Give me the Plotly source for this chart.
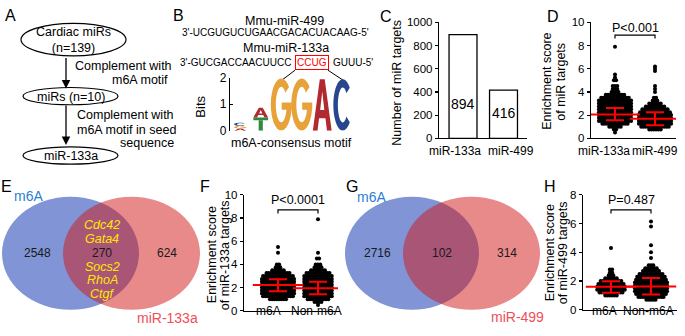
import math
import plotly.graph_objects as go

W, H = 685, 336
FONT = "Liberation Sans, Arial, sans-serif"

# ---------------- data ----------------
flow_steps = ["Cardiac miRs<br>(n=139)", "miRs (n=10)", "miR-133a"]
flow_note1 = ["Complement with", "m6A motif"]
flow_note2 = ["Complement with", "m6A motif in seed", "sequence"]

mir499_name = "Mmu-miR-499"
mir499_seq = "3'-UCGUGUCUGAACGACACUACAAG-5'"
mir133_name = "Mmu-miR-133a"
mir133_left = "3'-GUCGACCAACUUCC"
mir133_site = "CCUG"
mir133_right = "GUUU-5'"
logo_title = "m6A-consensus motif"

logo_letters = [["A", "G", "C"], ["T", "A"], ["G"], ["G"], ["A"], ["C"]]
logo_bits = [[0.08, 0.10, 0.12], [0.50, 0.37], [1.98], [1.98], [1.95], [1.95]]
logo_ticks = [0, 1, 2]

target_mirs = ["miR-133a", "miR-499"]
target_counts = [894, 416]
bar_ticks = [0, 200, 400, 600, 800, 1000]

# D: enrichment score of miR targets (value levels and number of dots per level)
d_groups = ["miR-133a", "miR-499"]
d_lv_133a = [0.5, 0.75, 1.0, 1.25, 1.5, 1.75, 2.0, 2.25, 2.5, 2.75, 3.0, 3.25, 3.5, 3.75, 4.0, 4.25, 4.5, 5.0, 5.25, 5.5, 7.9]
d_ct_133a = [1, 2, 6, 12, 15, 15, 15, 15, 15, 15, 15, 15, 13, 9, 4, 3, 3, 2, 1, 1, 1]
d_lv_499 = [0.75, 1.0, 1.25, 1.5, 1.75, 2.0, 2.25, 2.5, 2.75, 3.0, 3.25, 3.5, 4.0, 4.25, 4.5, 5.8, 6.0, 6.2]
d_ct_499 = [6, 13, 15, 15, 15, 15, 14, 12, 9, 6, 3, 2, 1, 1, 1, 1, 1, 1]
d_mean = [2.05, 1.68]
d_sd_hi = [2.62, 2.25]
d_sd_lo = [1.55, 1.12]
d_p = "P<0.001"

# F: miR-133a targets, m6A vs non-m6A
f_groups = ["m6A", "Non-m6A"]
f_lv_m6a = [1.0, 1.25, 1.5, 1.75, 2.0, 2.25, 2.5, 2.75, 3.0, 3.25, 3.5, 3.75, 4.0, 5.0, 5.5]
f_ct_m6a = [8, 14, 15, 15, 15, 15, 15, 15, 14, 11, 6, 3, 2, 1, 1]
f_lv_non = [0.5, 0.75, 1.0, 1.25, 1.5, 1.75, 2.0, 2.25, 2.5, 2.75, 3.0, 3.25, 3.5, 3.75, 4.0, 4.5, 5.0, 7.9]
f_ct_non = [1, 4, 10, 13, 13, 13, 13, 13, 13, 13, 13, 11, 7, 4, 3, 2, 1, 1]
f_mean = [2.22, 1.95]
f_sd_hi = [2.72, 2.50]
f_sd_lo = [1.68, 1.43]
f_p = "P<0.0001"

# H: miR-499 targets, m6A vs non-m6A
h_groups = ["m6A", "Non-m6A"]
h_lv_m6a = [1.0, 1.2, 1.4, 1.6, 1.8, 2.0, 2.2, 2.4, 2.6, 2.8, 4.3]
h_ct_m6a = [6, 11, 13, 13, 12, 10, 6, 3, 2, 2, 1]
h_lv_non = [0.7, 0.9, 1.1, 1.3, 1.5, 1.7, 1.9, 2.1, 2.3, 2.5, 2.7, 2.9, 3.1, 3.6, 4.0, 4.5, 5.8, 6.15]
h_ct_non = [5, 12, 14, 15, 15, 15, 15, 14, 13, 11, 8, 6, 3, 1, 1, 1, 1, 1]
h_mean = [1.60, 1.62]
h_sd_hi = [1.98, 2.22]
h_sd_lo = [1.18, 1.07]
h_p = "P=0.487"

# Venn diagrams
venn_e_sets = ["m6A", "miR-133a"]
venn_e_counts = [2548, 270, 624]
venn_e_genes = ["Cdc42", "Gata4", "Socs2", "RhoA", "Ctgf"]
venn_g_sets = ["m6A", "miR-499"]
venn_g_counts = [2716, 102, 314]

# ---------------- helpers ----------------
def X(px):
    return px / W

def Y(py):
    return 1 - py / H

annotations = []
shapes = []

def text(px, py, s, size=12.5, color="black", xanchor="center", yanchor="middle", angle=0, italic=False, **kw):
    annotations.append(dict(x=X(px), y=Y(py), xref="paper", yref="paper", text=s, showarrow=False,
                            xanchor=xanchor, yanchor=yanchor, textangle=angle,
                            font=dict(family=FONT, size=size, color=color,
                                      style="italic" if italic else "normal"), **kw))

BLACK = "black"
axis_common = dict(showline=True, linecolor=BLACK, linewidth=1.2, showgrid=False, zeroline=False,
                   ticks="outside", ticklen=3, tickwidth=1.2, tickcolor=BLACK,
                   tickfont=dict(family=FONT, size=11.5, color=BLACK))

fig = go.Figure()

# ---------------- Panel A: flowchart ----------------
text(10, 9, "A", size=16)
ell = [(21, 126, 17, 51), (23, 118, 84, 102), (23, 118, 146, 164)]
for (x0, x1, y0, y1), lab in zip(ell, flow_steps):
    shapes.append(dict(type="circle", xref="paper", yref="paper", x0=X(x0), x1=X(x1), y0=Y(y1), y1=Y(y0),
                       line=dict(color=BLACK, width=1.2), fillcolor="white"))
    text((x0 + x1) / 2, (y0 + y1) / 2 + 0.5, lab, size=12.5)
for (tipy, length) in [(85, 32), (144, 41)]:
    annotations.append(dict(x=X(66), y=Y(tipy), xref="paper", yref="paper", ax=0, ay=-length,
                            showarrow=True, arrowhead=2, arrowsize=1.3, arrowwidth=1.3, arrowcolor=BLACK, text=""))
text(73, 62, flow_note1[0], xanchor="left")
text(170, 76, flow_note1[1], xanchor="right")
text(75, 113, flow_note2[0], xanchor="left")
text(75, 128, flow_note2[1], xanchor="left")
text(176, 142, flow_note2[2], xanchor="right")

# ---------------- Panel B: sequences + logo ----------------
text(178, 9, "B", size=16)
text(284, 15, mir499_name, size=12.5)
text(180, 27, mir499_seq, size=10, xanchor="left")
text(286, 43, mir133_name, size=12.5)
text(293, 58, mir133_left, size=10, xanchor="right")
text(311.5, 58, mir133_site, size=10, color="red", bordercolor="red", borderwidth=1, borderpad=1)
text(331, 58, mir133_right, size=10, xanchor="left")
shapes.append(dict(type="line", xref="paper", yref="paper", x0=X(295), y0=Y(66), x1=X(281), y1=Y(77),
                   line=dict(color=BLACK, width=1)))
shapes.append(dict(type="line", xref="paper", yref="paper", x0=X(328), y0=Y(66), x1=X(344), y1=Y(77),
                   line=dict(color=BLACK, width=1)))
text(201, 104, "Bits", size=13, angle=-90)
text(291, 142, logo_title, size=12.5)

letter_colors = {"G": "#e8a23a", "A": "#b02a2f", "C": "#27468f", "T": "#2e8a3c"}

def arc(cx, cy, rx, ry, a0, a1, n=28):
    pts = []
    for k in range(n + 1):
        a = math.radians(a0 + (a1 - a0) * k / n)
        pts.append((cx + rx * math.cos(a), cy + ry * math.sin(a)))
    return pts

def glyph(letter):
    # polygons in a unit box; rings after the first in a group are holes
    if letter in ("C", "G"):
        a0, a1 = (42, 318) if letter == "C" else (42, 358)
        outer = arc(0.5, 0.5, 0.5, 0.5, a0, a1)
        inner = arc(0.5, 0.5, 0.26, 0.34, a1, a0)
        polys = [[outer + inner]]
        if letter == "G":
            polys.append([[(0.52, 0.40), (1.0, 0.40), (1.0, 0.54), (0.52, 0.54)]])
        return polys
    if letter == "A":
        outer = [(0, 0), (0.25, 0), (0.33, 0.24), (0.67, 0.24), (0.75, 0), (1, 0), (0.63, 1), (0.37, 1)]
        hole = [(0.39, 0.40), (0.5, 0.76), (0.61, 0.40)]
        return [[outer, hole]]
    if letter == "T":
        return [[[(0, 0.78), (1, 0.78), (1, 1), (0, 1)]], [[(0.36, 0), (0.64, 0), (0.64, 0.78), (0.36, 0.78)]]]
    return []

col_widths = [0.6, 0.72, 1.02, 1.02, 0.92, 0.92]
for i, (letters, bits) in enumerate(zip(logo_letters, logo_bits)):
    base = 0.0
    cx = i + 0.5
    w = col_widths[i]
    for let, b in zip(letters, bits):
        for poly_group in glyph(let):
            path = ""
            for ring in poly_group:
                pts = [(cx - w / 2 + u * w, base + v * b) for (u, v) in ring]
                path += "M" + " L".join(f"{x:.4f},{y:.4f}" for x, y in pts) + " Z "
            shapes.append(dict(type="path", xref="x5", yref="y5", path=path,
                               fillcolor=letter_colors[let], line=dict(width=0), layer="above"))
        base += b

# invisible trace to anchor logo axes
fig.add_trace(go.Scatter(x=[0.5], y=[0], xaxis="x5", yaxis="y5", mode="markers",
                         marker=dict(opacity=0), showlegend=False, hoverinfo="skip"))

# ---------------- Panel C: bar chart ----------------
text(386, 10, "C", size=16)
fig.add_trace(go.Bar(x=[0, 1], y=target_counts, width=0.69, xaxis="x", yaxis="y",
                     marker=dict(color="white", line=dict(color=BLACK, width=1.3)), showlegend=False,
                     hoverinfo="skip"))
bar_label_y = [300, 215]
for i, (v, ly) in enumerate(zip(target_counts, bar_label_y)):
    annotations.append(dict(x=i, y=ly, xref="x", yref="y", text=str(v), showarrow=False,
                            font=dict(family=FONT, size=14, color=BLACK)))
for i, (lab, sh) in enumerate(zip(target_mirs, [-8, 7])):
    annotations.append(dict(x=i, y=Y(150.5), xref="x", yref="paper", text=lab, showarrow=False, xshift=sh,
                            font=dict(family=FONT, size=12, color=BLACK)))
text(397, 79, "Number of miR targets", size=12.5, angle=-90)

# ---------------- dot plots ----------------
def swarm(levels, counts, center, step=0.0575):
    xs, ys = [], []
    for v, n in zip(levels, counts):
        for k in range(n):
            xs.append(center + (k - (n - 1) / 2) * step)
            ys.append(v)
    return xs, ys

def dot_panel(xa, ya, groups, lv_ct, means, hi, lo, ptxt, ytop, ylow, yp, label_shifts, label_py):
    for gi, (lv, ct) in enumerate(lv_ct):
        xs, ys = swarm(lv, ct, gi)
        fig.add_trace(go.Scatter(x=xs, y=ys, xaxis=xa, yaxis=ya, mode="markers",
                                 marker=dict(color=BLACK, size=4), showlegend=False, hoverinfo="skip"))
    fig.add_trace(go.Scatter(x=[0, 1], y=means, xaxis=xa, yaxis=ya, mode="markers", showlegend=False,
                             hoverinfo="skip",
                             marker=dict(symbol="line-ew", size=36, color="red", line=dict(color="red", width=2)),
                             error_y=dict(type="data", symmetric=False,
                                          array=[h - m for h, m in zip(hi, means)],
                                          arrayminus=[m - l for m, l in zip(means, lo)],
                                          color="red", thickness=2, width=9)))
    shapes.append(dict(type="path", xref=xa, yref=ya, path=f"M0,{ylow} L0,{ytop} L1,{ytop} L1,{ylow}",
                       line=dict(color=BLACK, width=1.2)))
    annotations.append(dict(x=0.5, y=yp, xref=xa, yref=ya, text=ptxt, showarrow=False,
                            font=dict(family=FONT, size=12.5, color=BLACK)))
    for gi, (lab, sh) in enumerate(zip(groups, label_shifts)):
        annotations.append(dict(x=gi, y=Y(label_py), xref=xa, yref="paper", text=lab, showarrow=False,
                                xshift=sh, font=dict(family=FONT, size=12, color=BLACK)))

text(553, 10, "D", size=16)
dot_panel("x2", "y2", d_groups, [(d_lv_133a, d_ct_133a), (d_lv_499, d_ct_499)], d_mean, d_sd_hi, d_sd_lo,
          d_p, 8.9, 8.6, 9.55, [-11, 0], 150.5)
text(547, 78, "Enrichment score", size=12.5, angle=-90)
text(561, 78, "of miR targets", size=12.5, angle=-90)

text(205, 187, "F", size=16)
dot_panel("x3", "y3", f_groups, [(f_lv_m6a, f_ct_m6a), (f_lv_non, f_ct_non)], f_mean, f_sd_hi, f_sd_lo,
          f_p, 8.7, 8.4, 9.55, [-10, -2], 327)
text(212, 259, "Enrichment score", size=12.5, angle=-90)
text(225, 259, "of miR-133a targets", size=12.5, angle=-90)

text(550, 187, "H", size=16)
dot_panel("x4", "y4", h_groups, [(h_lv_m6a, h_ct_m6a), (h_lv_non, h_ct_non)], h_mean, h_sd_hi, h_sd_lo,
          h_p, 6.95, 6.7, 7.65, [-7, -3], 327)
text(550, 257, "Enrichment score", size=12.5, angle=-90)
text(563, 257, "of miR-499 targets", size=12.5, angle=-90)

# ---------------- Venn diagrams ----------------
BLUE_FILL = "rgb(128,148,214)"
RED_FILL = "rgba(209,22,22,0.5)"

def venn(blue_box, red_box, sets, counts, count_px, set_lab_px, label):
    bx0, bx1, by0, by1 = blue_box
    rx0, rx1, ry0, ry1 = red_box
    shapes.append(dict(type="circle", xref="paper", yref="paper", x0=X(bx0), x1=X(bx1), y0=Y(by1), y1=Y(by0),
                       fillcolor=BLUE_FILL, line=dict(width=0), layer="below"))
    shapes.append(dict(type="circle", xref="paper", yref="paper", x0=X(rx0), x1=X(rx1), y0=Y(ry1), y1=Y(ry0),
                       fillcolor=RED_FILL, line=dict(width=0), layer="below"))
    for c, px in zip(counts, count_px):
        text(px, 257, str(c), size=12, color="#1a1a1a")
    text(set_lab_px[0][0], set_lab_px[0][1], sets[0], size=14, color="#2b7fd4")
    text(set_lab_px[1][0], set_lab_px[1][1], sets[1], size=14, color="#ef4f57")
    text(label[1], label[2], label[0], size=16)

venn((2, 139, 198, 316), (63, 200, 198, 316), venn_e_sets, venn_e_counts, [37, 102, 167],
     [(28, 197), (167, 324)], ("E", 6, 187))
gene_py = [227, 242, 271, 285, 299]
for g, py in zip(venn_e_genes, gene_py):
    text(102, py, g, size=12.5, color="#ffe800", italic=True)

venn((345, 479, 198, 316), (403, 540, 198, 316), venn_g_sets, venn_g_counts, [377, 442, 507],
     [(371, 198), (517, 323)], ("G", 352, 187))

# ---------------- layout ----------------
def dx(a, b):
    return [a / W, b / W]

def dy(top, bottom):
    return [1 - bottom / H, 1 - top / H]

hidden_x = dict(showline=True, linecolor=BLACK, linewidth=1.2, showgrid=False, zeroline=False,
                showticklabels=False, ticks="")

fig.update_layout(
    width=W, height=H, autosize=False,
    margin=dict(l=0, r=0, t=0, b=0),
    paper_bgcolor="white", plot_bgcolor="rgba(0,0,0,0)",
    showlegend=False, hovermode=False,
    font=dict(family=FONT, color=BLACK),
    # C
    xaxis=dict(domain=dx(439, 527), range=[-0.593, 1.58], anchor="y", **hidden_x),
    yaxis=dict(domain=dy(16, 137), range=[0, 1000], tickvals=bar_ticks, anchor="x", **axis_common),
    # D
    xaxis2=dict(domain=dx(591, 676), range=[-0.6, 1.525], anchor="y2", **hidden_x),
    yaxis2=dict(domain=dy(16, 137), range=[0, 10], tickvals=[0, 2, 4, 6, 8, 10], anchor="x2", **axis_common),
    # F
    xaxis3=dict(domain=dx(244, 338), range=[-0.85, 1.5], anchor="y3", **hidden_x),
    yaxis3=dict(domain=dy(196, 317), range=[0, 10], tickvals=[0, 2, 4, 6, 8, 10], anchor="x3", **axis_common),
    # H
    xaxis4=dict(domain=dx(583, 677), range=[-0.7, 1.65], anchor="y4", **hidden_x),
    yaxis4=dict(domain=dy(196, 316), range=[0, 8], tickvals=[0, 2, 4, 6, 8], anchor="x4", **axis_common),
    # logo
    xaxis5=dict(domain=dx(230, 353), range=[0, 6], anchor="y5", visible=False),
    yaxis5=dict(domain=dy(74, 129), range=[0, 2], tickvals=logo_ticks, anchor="x5",
                showline=True, linecolor=BLACK, linewidth=1.2, showgrid=False, zeroline=False,
                ticks="inside", ticklen=3, tickwidth=1.2, tickcolor=BLACK,
                tickfont=dict(family=FONT, size=12, color=BLACK)),
    annotations=annotations,
    shapes=shapes,
)

fig.write_html("out.html", config={"displayModeBar": False, "staticPlot": True},
               post_script="document.body.style.margin='0px';document.body.style.padding='0px';"
                           "document.documentElement.style.overflow='hidden';")
